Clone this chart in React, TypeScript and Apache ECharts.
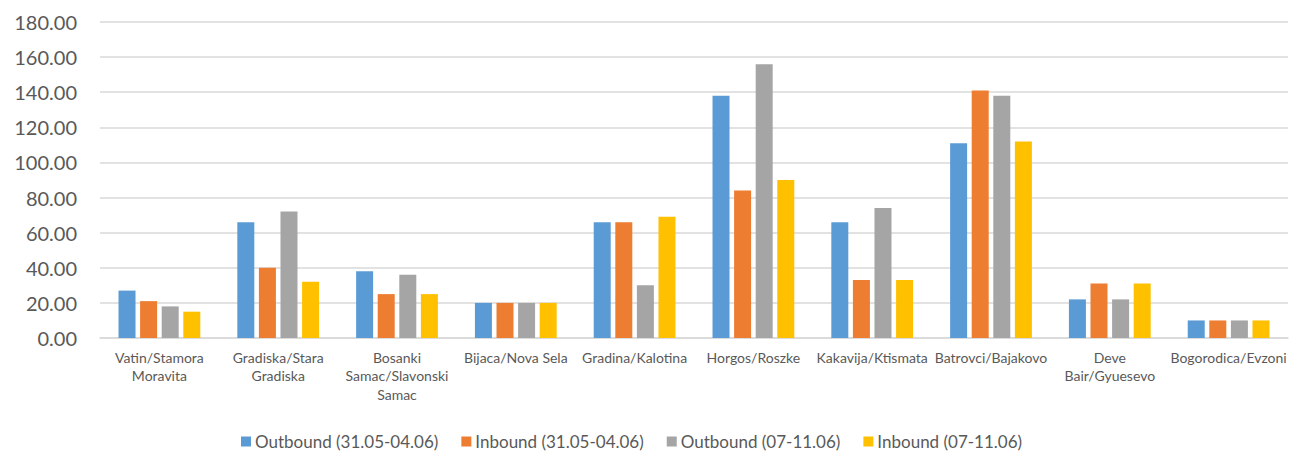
import React, { useEffect, useRef } from "react";
import * as echarts from "echarts";

const categories = [
  "Vatin/Stamora Moravita",
  "Gradiska/Stara Gradiska",
  "Bosanki Samac/Slavonski Samac",
  "Bijaca/Nova Sela",
  "Gradina/Kalotina",
  "Horgos/Roszke",
  "Kakavija/Ktismata",
  "Batrovci/Bajakovo",
  "Deve Bair/Gyuesevo",
  "Bogorodica/Evzoni",
];

// tick labels as wrapped in the reference
const tickLabels = [
  "Vatin/Stamora\nMoravita",
  "Gradiska/Stara\nGradiska",
  "Bosanki\nSamac/Slavonski\nSamac",
  "Bijaca/Nova Sela",
  "Gradina/Kalotina",
  "Horgos/Roszke",
  "Kakavija/Ktismata",
  "Batrovci/Bajakovo",
  "Deve\nBair/Gyuesevo",
  "Bogorodica/Evzoni",
];

const seriesNames = [
  "Outbound (31.05-04.06)",
  "Inbound (31.05-04.06)",
  "Outbound (07-11.06)",
  "Inbound (07-11.06)",
];

const outbound1 = [27, 66, 38, 20, 66, 138, 66, 111, 22, 10];
const inbound1 = [21, 40, 25, 20, 66, 84, 33, 141, 31, 10];
const outbound2 = [18, 72, 36, 20, 30, 156, 74, 138, 22, 10];
const inbound2 = [15, 32, 25, 20, 69, 90, 33, 112, 31, 10];

const colors = ["#5B9BD5", "#ED7D31", "#A5A5A5", "#FFC000"];

export default function App() {
  const ref = useRef<HTMLDivElement>(null);
  useEffect(() => {
    document.body.style.margin = "0";
    const chart = echarts.init(ref.current!, null, { renderer: "svg" });
    const values = [outbound1, inbound1, outbound2, inbound2];
    chart.setOption({
      animation: false,
      color: colors,
      textStyle: { fontFamily: "Lato" },
      grid: { left: 100, right: 5, top: 22, bottom: 115 },
      legend: {
        left: 241,
        top: 433,
        padding: 0,
        itemWidth: 10,
        itemHeight: 10,
        itemGap: 23,
        icon: "rect",
        textStyle: { color: "#595959", fontSize: 17, fontFamily: "Lato", padding: [0, 0, 0, -1] },
        data: seriesNames,
      },
      xAxis: {
        type: "category",
        data: categories,
        axisLine: { lineStyle: { color: "#D9D9D9", width: 1.5 } },
        axisTick: { show: false },
        axisLabel: {
          interval: 0,
          color: "#595959",
          fontSize: 14,
          fontFamily: "Lato",
          lineHeight: 18.5,
          margin: 10,
          formatter: (_v: string, idx: number) => tickLabels[idx],
        },
      },
      yAxis: {
        type: "value",
        min: 0,
        max: 180,
        interval: 20,
        axisLine: { show: false },
        axisTick: { show: false },
        splitLine: { lineStyle: { color: "#D9D9D9", width: 1.5 } },
        axisLabel: {
          color: "#595959",
          fontSize: 20,
          fontFamily: "Lato",
          margin: 23,
          formatter: (v: number) => v.toFixed(2),
        },
      },
      series: values.map((d, i) => ({
        name: seriesNames[i],
        type: "bar",
        data: d,
        barWidth: 17,
        barGap: "27%",
        itemStyle: { color: colors[i] },
      })),
    });
    return () => chart.dispose();
  }, []);
  return <div ref={ref} style={{ width: 1293, height: 453 }} />;
}
